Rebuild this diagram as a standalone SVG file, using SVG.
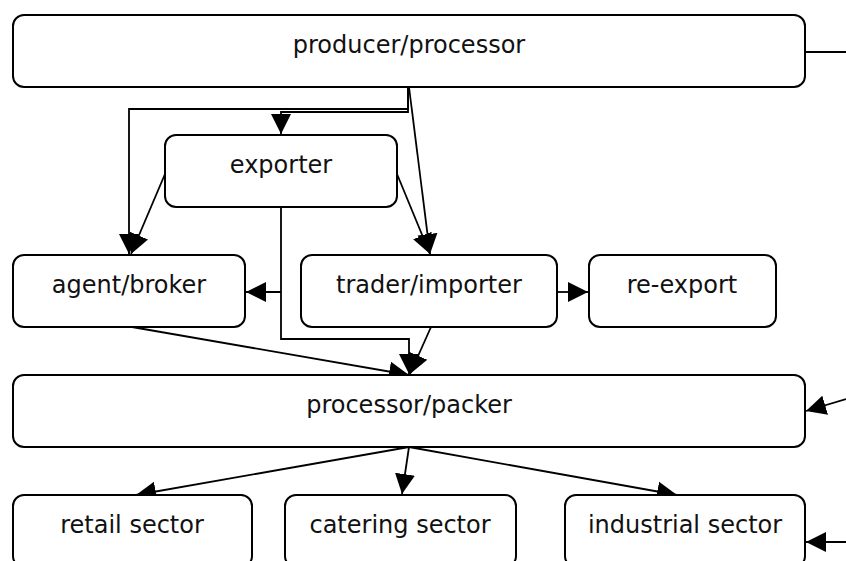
<svg xmlns="http://www.w3.org/2000/svg" width="846" height="561" viewBox="0 0 846 561">
  <style>
    .box { fill: #ffffff; stroke: #000000; stroke-width: 2; }
    .label { font-family: "DejaVu Sans", Verdana, sans-serif; font-size: 24px; fill: #111111; text-anchor: middle; }
    .edge { fill: none; stroke: #000000; stroke-width: 1.8; }
  </style>
  <defs>
    <marker id="arrow" markerUnits="userSpaceOnUse" markerWidth="22" markerHeight="22" viewBox="0 0 22 22" refX="20" refY="11" orient="auto">
      <path d="M0,1 L20,11 L0,21 Z" fill="#000000"/>
    </marker>
  </defs>

  <g id="connectors">
    <!-- producer/processor fan-out -->
    <path class="edge" d="M408,87 V109 H129 V254" marker-end="url(#arrow)"/>
    <path class="edge" d="M408,87 V112 H281 V134" marker-end="url(#arrow)"/>
    <path class="edge" d="M409,87 L430,254" marker-end="url(#arrow)"/>
    <!-- exporter outputs -->
    <path class="edge" d="M165,174 L131,254" marker-end="url(#arrow)"/>
    <path class="edge" d="M397,174 L430,254" marker-end="url(#arrow)"/>
    <path class="edge" d="M281,207 V339 H409 V374" marker-end="url(#arrow)"/>
    <path class="edge" d="M281,292 H246" marker-end="url(#arrow)"/>
    <!-- trader/importer outputs -->
    <path class="edge" d="M557,292 H588" marker-end="url(#arrow)"/>
    <path class="edge" d="M431,327 L410,374" marker-end="url(#arrow)"/>
    <!-- agent/broker to processor/packer -->
    <path class="edge" d="M132,327 L409,375" marker-end="url(#arrow)"/>
    <!-- processor/packer to sectors -->
    <path class="edge" d="M409,447 L136,495" marker-end="url(#arrow)"/>
    <path class="edge" d="M409,447 L402,494" marker-end="url(#arrow)"/>
    <path class="edge" d="M409,447 L677,495" marker-end="url(#arrow)"/>
    <!-- lines entering from the right margin -->
    <path class="edge" d="M805,52 H846"/>
    <path class="edge" d="M846,399 L806,411" marker-end="url(#arrow)"/>
    <path class="edge" d="M846,542 H806" marker-end="url(#arrow)"/>
  </g>

  <g id="producer-processor">
    <rect class="box" x="13" y="15" width="792" height="72" rx="11"/>
    <text class="label" x="409" y="53">producer/processor</text>
  </g>
  <g id="exporter">
    <rect class="box" x="165" y="135" width="232" height="72" rx="11"/>
    <text class="label" x="281" y="173">exporter</text>
  </g>
  <g id="agent-broker">
    <rect class="box" x="13" y="255" width="232" height="72" rx="11"/>
    <text class="label" x="129" y="293">agent/broker</text>
  </g>
  <g id="trader-importer">
    <rect class="box" x="301" y="255" width="256" height="72" rx="11"/>
    <text class="label" x="429" y="293">trader/importer</text>
  </g>
  <g id="re-export">
    <rect class="box" x="589" y="255" width="187" height="72" rx="11"/>
    <text class="label" x="682" y="293">re-export</text>
  </g>
  <g id="processor-packer">
    <rect class="box" x="13" y="375" width="792" height="72" rx="11"/>
    <text class="label" x="409" y="413">processor/packer</text>
  </g>
  <g id="retail-sector">
    <rect class="box" x="13" y="495" width="239" height="72" rx="11"/>
    <text class="label" x="132" y="533">retail sector</text>
  </g>
  <g id="catering-sector">
    <rect class="box" x="285" y="495" width="231" height="72" rx="11"/>
    <text class="label" x="400" y="533">catering sector</text>
  </g>
  <g id="industrial-sector">
    <rect class="box" x="565" y="495" width="240" height="72" rx="11"/>
    <text class="label" x="685" y="533">industrial sector</text>
  </g>
</svg>
